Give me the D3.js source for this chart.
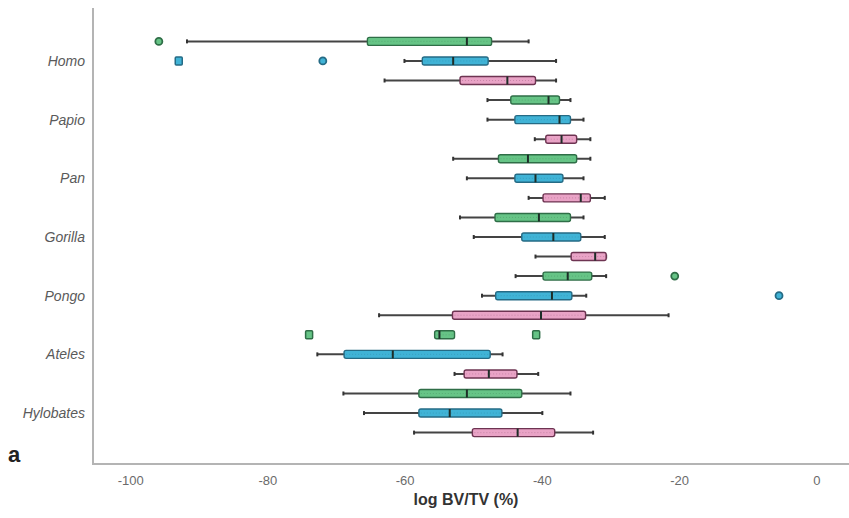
<!DOCTYPE html>
<html lang="en">
<head>
<meta charset="UTF-8">
<title>log BV/TV</title>
<script src="https://d3js.org/d3.v7.min.js"></script>
<style>
  body { margin: 0; background: #fff; }
  text { font-family: "Liberation Sans", Arial, sans-serif; }
  .narrow { font-family: "Liberation Sans Narrow", "Arial Narrow", "Liberation Sans", sans-serif; }
</style>
</head>
<body>
<svg class="chart" width="849" height="518"></svg>
<script>
// genera, top to bottom
const genera = ['Homo', 'Papio', 'Pan', 'Gorilla', 'Pongo', 'Ateles', 'Hylobates']
const groups = ['green', 'blue', 'pink']

// [min, q1, median, q3, max] for each genus
const greenStats = [
  [-91.8, -65.5, -51.0, -47.4, -42.0],
  [-48.0, -44.6, -39.1, -37.5, -35.9],
  [-53.0, -46.4, -42.1, -35.0, -33.0],
  [-52.0, -46.9, -40.5, -35.9, -34.0],
  [-43.9, -39.9, -36.3, -32.8, -30.7],
  [-55.7, -55.7, -55.0, -52.8, -52.8],
  [-69.0, -58.0, -51.0, -43.0, -35.9]
]
const blueStats = [
  [-60.1, -57.5, -53.0, -47.9, -38.0],
  [-48.0, -44.0, -37.5, -35.9, -34.0],
  [-51.0, -44.0, -41.0, -37.0, -34.0],
  [-50.0, -43.0, -38.4, -34.4, -30.9],
  [-48.8, -46.8, -38.6, -35.7, -33.6],
  [-72.8, -68.9, -61.8, -47.6, -45.8],
  [-66.0, -58.0, -53.5, -45.9, -40.0]
]
const pinkStats = [
  [-63.0, -52.0, -45.1, -41.0, -38.0],
  [-41.1, -39.5, -37.2, -35.0, -33.0],
  [-42.0, -39.9, -34.4, -33.0, -30.9],
  [-41.0, -35.8, -32.3, -30.7, -30.7],
  [-63.8, -53.1, -40.2, -33.7, -21.6],
  [-52.8, -51.4, -47.8, -43.7, -40.6],
  [-58.7, -50.2, -43.6, -38.2, -32.6]
]

// outliers: genus, group, value, kind (o = circle, x = extreme / square)
const outlierGenus = ['Homo', 'Homo', 'Homo', 'Pongo', 'Pongo', 'Ateles', 'Ateles']
const outlierGroup = ['green', 'blue', 'blue', 'green', 'blue', 'green', 'green']
const outlierValue = [-95.9, -93.0, -72.0, -20.7, -5.5, -74.0, -40.9]
const outlierKind = ['o', 'x', 'o', 'o', 'o', 'x', 'x']

const xTicks = [-100, -80, -60, -40, -20, 0]

const fills = { green: '#66c486', blue: '#40b3d6', pink: '#e9a3c6' }
const strokes = { green: '#2f6e47', blue: '#256b85', pink: '#6e3452' }

const svg = d3.select('.chart')
const width = +svg.attr('width')

const xScale = d3.scaleLinear()
  .domain([-105.5, 4.7])
  .range([93, width])

const yScale = d3.scaleBand()
  .domain(genera)
  .range([31.6, 442.4])
  .padding(0)

const subScale = d3.scaleBand()
  .domain(groups)
  .range([0, yScale.bandwidth()])

const statsByGroup = { green: greenStats, blue: blueStats, pink: pinkStats }
const rows = []
groups.forEach(grp => {
  statsByGroup[grp].forEach((s, i) => {
    rows.push({ genus: genera[i], group: grp, min: s[0], q1: s[1], med: s[2], q3: s[3], max: s[4] })
  })
})
const cy = d => yScale(d.genus) + subScale(d.group) + subScale.bandwidth() / 2

// axes lines
svg.append('line')
  .attr('x1', 93).attr('x2', 93).attr('y1', 8).attr('y2', 464)
  .attr('stroke', '#b4b4b4').attr('stroke-width', 2)
svg.append('line')
  .attr('x1', 92).attr('x2', width).attr('y1', 464).attr('y2', 464)
  .attr('stroke', '#b4b4b4').attr('stroke-width', 2)

// tick labels
svg.selectAll('.xlab').data(xTicks).enter().append('text')
  .attr('class', 'xlab narrow')
  .attr('x', d => xScale(d))
  .attr('y', 485)
  .attr('text-anchor', 'middle')
  .attr('font-size', 13)
  .attr('fill', '#6b6b6b')
  .text(d => d)

svg.selectAll('.ylab').data(genera).enter().append('text')
  .attr('class', 'ylab')
  .attr('x', 85)
  .attr('y', d => yScale(d) + yScale.bandwidth() / 2 + 5)
  .attr('text-anchor', 'end')
  .attr('font-size', 14)
  .attr('font-style', 'italic')
  .attr('fill', '#5a5a5a')
  .text(d => d)

// axis title and panel letter
svg.append('text')
  .attr('class', 'narrow')
  .attr('x', 466).attr('y', 505)
  .attr('text-anchor', 'middle')
  .attr('font-size', 16)
  .attr('font-weight', 'bold')
  .attr('fill', '#333')
  .text('log BV/TV (%)')

svg.append('text')
  .attr('x', 8).attr('y', 462)
  .attr('font-size', 22)
  .attr('font-weight', 'bold')
  .attr('fill', '#222')
  .text('a')

const g = svg.append('g')

// whiskers
const whisk = rows.filter(d => d.min < d.q1 || d.max > d.q3)
g.selectAll('.whisker').data(whisk).enter().append('line')
  .attr('x1', d => xScale(d.min)).attr('x2', d => xScale(d.max))
  .attr('y1', cy).attr('y2', cy)
  .attr('stroke', '#444').attr('stroke-width', 2)

const caps = []
whisk.forEach(d => { caps.push({ d, v: d.min }); caps.push({ d, v: d.max }) })
g.selectAll('.cap').data(caps).enter().append('line')
  .attr('x1', c => xScale(c.v)).attr('x2', c => xScale(c.v))
  .attr('y1', c => cy(c.d) - 2).attr('y2', c => cy(c.d) + 2)
  .attr('stroke', '#333').attr('stroke-width', 2)

// boxes
const boxH = 8
g.selectAll('.box').data(rows).enter().append('rect')
  .attr('x', d => xScale(d.q1))
  .attr('width', d => xScale(d.q3) - xScale(d.q1))
  .attr('y', d => cy(d) - boxH / 2)
  .attr('height', boxH)
  .attr('rx', 2)
  .attr('fill', d => fills[d.group])
  .attr('stroke', d => strokes[d.group])
  .attr('stroke-width', 1.4)

// faint hatch line inside boxes
g.selectAll('.hatch').data(rows).enter().append('line')
  .attr('x1', d => xScale(d.q1) + 2).attr('x2', d => xScale(d.q3) - 2)
  .attr('y1', cy).attr('y2', cy)
  .attr('stroke', d => strokes[d.group])
  .attr('stroke-opacity', 0.25)
  .attr('stroke-dasharray', '1,2')

// medians
g.selectAll('.median').data(rows).enter().append('line')
  .attr('x1', d => xScale(d.med)).attr('x2', d => xScale(d.med))
  .attr('y1', d => cy(d) - boxH / 2).attr('y2', d => cy(d) + boxH / 2)
  .attr('stroke', '#1e2e28').attr('stroke-width', 2)

// outliers
const outliers = outlierValue.map((v, i) => ({
  genus: outlierGenus[i], group: outlierGroup[i], value: v, kind: outlierKind[i]
}))
g.selectAll('.outC').data(outliers.filter(d => d.kind === 'o')).enter().append('circle')
  .attr('cx', d => xScale(d.value))
  .attr('cy', cy)
  .attr('r', 3.5)
  .attr('fill', d => fills[d.group])
  .attr('stroke', d => strokes[d.group])
  .attr('stroke-width', 1.8)

g.selectAll('.outS').data(outliers.filter(d => d.kind === 'x')).enter().append('rect')
  .attr('x', d => xScale(d.value) - 3.5)
  .attr('y', d => cy(d) - 4)
  .attr('width', 7)
  .attr('height', 8)
  .attr('rx', 1)
  .attr('fill', d => fills[d.group])
  .attr('stroke', d => strokes[d.group])
  .attr('stroke-width', 1.5)
</script>
</body>
</html>
